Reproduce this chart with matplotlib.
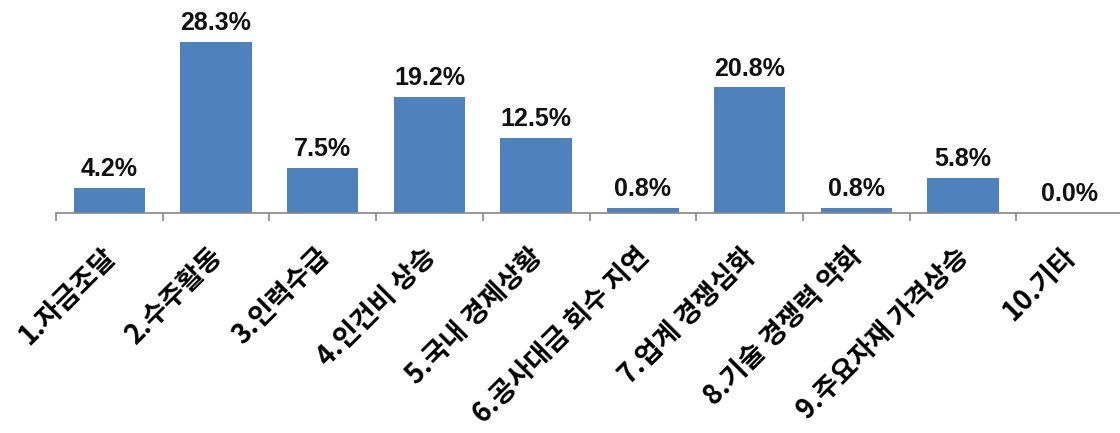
import matplotlib
matplotlib.use("Agg")
import matplotlib.pyplot as plt
import matplotlib.transforms as mtransforms
import numpy as np

categories = ["1.자금조달", "2.수주활동", "3.인력수급", "4.인건비 상승", "5.국내 경제상황",
              "6.공사대금 회수 지연", "7.업계 경쟁심화", "8.기술 경쟁력 약화",
              "9.주요자재 가격상승", "10.기타"]
values = [4.2, 28.3, 7.5, 19.2, 12.5, 0.8, 20.8, 0.8, 5.8, 0.0]
value_labels = ["4.2%", "28.3%", "7.5%", "19.2%", "12.5%", "0.8%", "20.8%", "0.8%", "5.8%", "0.0%"]

fig = plt.figure(figsize=(11.2, 4.33), dpi=100)
ax = fig.add_axes([56/1120, 220/433, 1067/1120, 213/433])

x = np.arange(len(categories))
ax.bar(x, values, width=0.67, color="#4F81BD")
ax.set_xlim(-0.5, len(categories) - 0.5)
ax.set_ylim(0, 35.3)

for xi, v, lab in zip(x, values, value_labels):
    ax.annotate(lab, (xi, v), xytext=(0, 5), textcoords="offset points",
                ha="center", va="bottom", fontsize=18, fontweight="bold",
                family=["Liberation Sans", "DejaVu Sans"], color="#111111")

for s in ["top", "right", "left"]:
    ax.spines[s].set_visible(False)
ax.spines["bottom"].set_color("#868686")
ax.spines["bottom"].set_linewidth(1.2)
ax.set_yticks([])

ax.set_xticks(x)
ax.set_xticklabels(categories, rotation=45, ha="right", va="top",
                   rotation_mode="anchor", fontsize=19.5, fontweight="bold",
                   family=["Noto Sans CJK KR", "DejaVu Sans"])
ax.tick_params(axis="x", which="major", length=0, pad=21)
ax.set_xticks(np.arange(-0.5, len(categories), 1.0), minor=True)
ax.tick_params(axis="x", which="minor", length=6, width=1.2, color="#868686", direction="out")

offset = mtransforms.ScaledTranslation(-8/100, 0, fig.dpi_scale_trans)
for lbl in ax.get_xticklabels():
    lbl.set_transform(lbl.get_transform() + offset)

fig.savefig("out.png", dpi=100, facecolor="white")
